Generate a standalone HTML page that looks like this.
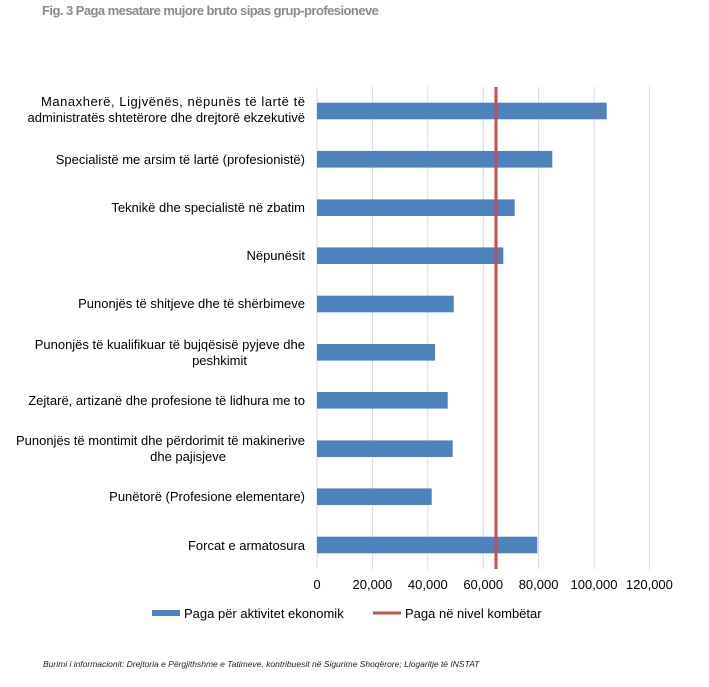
<!DOCTYPE html>
<html><head><meta charset="utf-8"><style>
body{margin:0;background:#fff;width:709px;height:682px;overflow:hidden;font-family:"Liberation Sans",sans-serif;}
</style></head><body>
<svg width="709" height="682" xmlns="http://www.w3.org/2000/svg" font-family="Liberation Sans, sans-serif">
<text x="42" y="15" font-size="13" font-weight="bold" fill="#8a8a8a" letter-spacing="-0.55">Fig. 3 Paga mesatare mujore bruto sipas grup-profesioneve</text>
<g stroke="#d9d9d9" stroke-width="1">
<line x1="317" y1="87" x2="317" y2="569"/><line x1="372.4" y1="87" x2="372.4" y2="569"/><line x1="427.8" y1="87" x2="427.8" y2="569"/><line x1="483.2" y1="87" x2="483.2" y2="569"/><line x1="538.6" y1="87" x2="538.6" y2="569"/><line x1="594" y1="87" x2="594" y2="569"/><line x1="649.4" y1="87" x2="649.4" y2="569"/>
</g>
<g fill="#4f81bd">
<rect x="317" y="102.7" width="289.7" height="16.6"/>
<rect x="317" y="151" width="235.3" height="16.6"/>
<rect x="317" y="199.4" width="197.7" height="16.6"/>
<rect x="317" y="247.4" width="186.3" height="16.6"/>
<rect x="317" y="295.7" width="136.7" height="16.6"/>
<rect x="317" y="344" width="118" height="16.6"/>
<rect x="317" y="392" width="130.7" height="16.6"/>
<rect x="317" y="440.4" width="135.7" height="16.6"/>
<rect x="317" y="488.4" width="114.7" height="16.6"/>
<rect x="317" y="536.7" width="220.3" height="16.6"/>
</g>
<line x1="496" y1="87" x2="496" y2="569" stroke="#c0504d" stroke-width="3"/>
<g font-size="13" fill="#000" text-anchor="end">
<text x="305" y="106" textLength="264">Manaxherë, Ligjvënës, nëpunës të lartë të</text>
<text x="305" y="122">administratës shtetërore dhe drejtorë ekzekutivë</text>
<text x="305" y="164">Specialistë me arsim të lartë (profesionistë)</text>
<text x="305" y="212">Teknikë dhe specialistë në zbatim</text>
<text x="305" y="260">Nëpunësit</text>
<text x="305" y="308">Punonjës të shitjeve dhe të shërbimeve</text>
<text x="305" y="349">Punonjës të kualifikuar të bujqësisë pyjeve dhe</text>
<text x="247" y="365">peshkimit</text>
<text x="305" y="405">Zejtarë, artizanë dhe profesione të lidhura me to</text>
<text x="305" y="445">Punonjës të montimit dhe përdorimit të makinerive</text>
<text x="226" y="461">dhe pajisjeve</text>
<text x="305" y="501">Punëtorë (Profesione elementare)</text>
<text x="305" y="550">Forcat e armatosura</text>
</g>
<g font-size="13" fill="#000" text-anchor="middle">
<text x="317" y="589">0</text><text x="372.4" y="589">20,000</text><text x="427.8" y="589">40,000</text><text x="483.2" y="589">60,000</text><text x="538.6" y="589">80,000</text><text x="594" y="589">100,000</text><text x="649.4" y="589">120,000</text>
</g>
<rect x="152" y="610" width="28" height="6" fill="#4f81bd"/>
<text x="184" y="618" font-size="13">Paga për aktivitet ekonomik</text>
<line x1="373" y1="613" x2="401" y2="613" stroke="#c0504d" stroke-width="3"/>
<text x="405" y="618" font-size="13">Paga në nivel kombëtar</text>
<text x="43" y="667" font-size="8.5" font-style="italic" fill="#222">Burimi i informacionit: Drejtoria e Përgjithshme e Tatimeve, kontribuesit në Sigurime Shoqërore; Llogaritje të INSTAT</text>
</svg>
</body></html>
